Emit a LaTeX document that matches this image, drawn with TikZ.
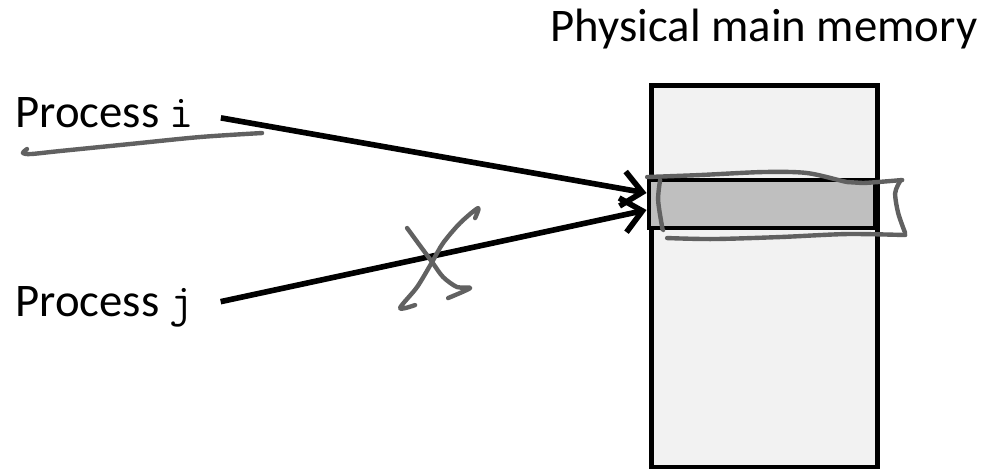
\documentclass[tikz,border=0pt]{standalone}
\usepackage{fontspec}
\setmainfont{Carlito}
\usetikzlibrary{arrows.meta}
\begin{document}
\begin{tikzpicture}[
      every node/.style={font=\fontsize{26.6}{30}\selectfont, inner sep=0pt},
      proc/.style={anchor=base west},
      membox/.style={draw, line width=2.8pt, fill=black!5, minimum width=4.52cm,
                     minimum height=7.64cm, anchor=north west},
      slot/.style={draw, line width=2.8pt, fill=black!25, minimum width=4.52cm,
                   minimum height=0.96cm},
      ptr/.style={line width=3.2pt, -{Straight Barb[length=4mm, width=7mm]},
                  shorten <=5.4mm},
      scribble/.style={black!62, line width=2.5pt, line cap=round, line join=round},
    ]
    \useasboundingbox (0,0) rectangle (19.82,9.38);

    % --- memory ---
    \node[membox] (mem) at (12.98,7.72) {};
    \node[slot] (slot) at (15.24,5.30) {};
    \node[anchor=base] (memlabel) at (15.28,8.54) {Physical main memory};

    % --- processes ---
    \node[proc] (pi) at (0.30,6.82) {Process \texttt{i}};
    \node[proc] (pj) at (0.30,3.04) {Process \texttt{j}};

    \coordinate (ti) at ([yshift=2.2mm]slot.west);
    \coordinate (tj) at ([yshift=-1.2mm]slot.west);
    \draw[ptr] (pi.east) -- (ti);
    \draw[ptr] (pj.east) -- (tj);

    % --- pen marks (pixel coordinates) ---
    \begin{scope}[shift={(0,9.38)}, x=0.02cm, y=-0.02cm]
      % underline
      \draw[scribble] plot[smooth] coordinates
        {(27,149) (23,153) (31,154) (60,151) (130,144) (200,137) (262,133)};
      % cross
      \draw[scribble] plot[smooth] coordinates
        {(407,228) (418,243) (432,262) (443,277) (457,287) (470,288) (448,298)};
      \draw[scribble] plot[smooth] coordinates
        {(475,218) (478,208) (460,223) (443,243) (432,262) (417,287) (400,308) (415,305)};
      % frame round the slot
      \draw[scribble] plot[smooth] coordinates
        {(647,177) (700,175) (763,172) (807,173) (847,182) (863,183) (902,180)};
      \draw[scribble] plot[smooth] coordinates
        {(900,181) (895,193) (898,213) (905,233)};
      \draw[scribble] plot[smooth] coordinates
        {(905,235) (847,234) (780,237) (713,239) (667,238)};
      \draw[scribble] plot[smooth] coordinates
        {(660,180) (658,200) (662,227) (663,230)};
    \end{scope}
  \end{tikzpicture}
\end{document}
